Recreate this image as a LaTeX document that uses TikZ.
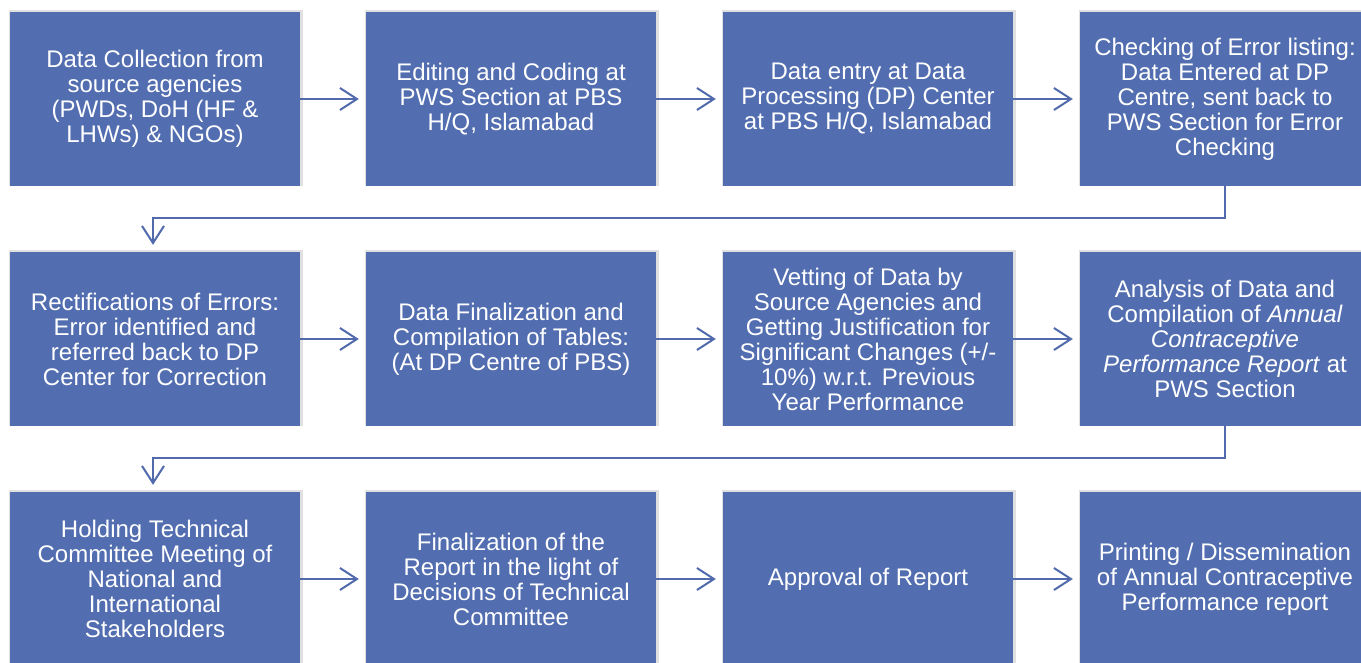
\documentclass[tikz,border=0pt]{standalone}
\usepackage{fontspec}
\setmainfont{Liberation Sans}
\usetikzlibrary{arrows.meta,shadows}
\definecolor{boxblue}{RGB}{82,110,176}
\definecolor{arrblue}{RGB}{80,106,172}
\begin{document}
\begin{tikzpicture}[x=1pt,y=-1pt,
  box/.style={fill=boxblue, draw=none, minimum width=290pt, minimum height=174pt,
    inner sep=0pt, text=white, align=center, font=\fontsize{24}{25}\selectfont,
    general shadow={fill=black, opacity=0.12, shadow scale=1.012, shadow xshift=1pt, shadow yshift=1pt}},
  conn/.style={draw=arrblue, line width=2pt, -{Straight Barb[length=17pt,width=22pt]}, shorten >=7pt}]
\clip (0,0) rectangle (1361,662);
\fill[white] (0,0) rectangle (1361,662);
% row 1
\node[box] (b1) at (155,99) {Data Collection from\\source agencies\\(PWDs, DoH (HF \&\\LHWs) \& NGOs)};
\node[box] (b2) at (511,99) {Editing and Coding at\\PWS Section at PBS\\H/Q, Islamabad};
\node[box] (b3) at (868,99) {Data entry at Data\\Processing (DP) Center\\at PBS H/Q, Islamabad};
\node[box] (b4) at (1225,99) {Checking of Error listing:\\Data Entered at DP\\Centre, sent back to\\PWS Section for Error\\Checking};
% row 2
\node[box] (b5) at (155,339) {Rectifications of Errors:\\Error identified and\\referred back to DP\\Center for Correction};
\node[box] (b6) at (511,339) {Data Finalization and\\Compilation of Tables:\\(At DP Centre of PBS)};
\node[box] (b7) at (868,339) {Vetting of Data by\\Source Agencies and\\Getting Justification for\\Significant Changes (+/-\\10\%) w.r.t. Previous\\Year Performance};
\node[box] (b8) at (1225,339) {Analysis of Data and\\Compilation of \textit{Annual}\\\textit{Contraceptive}\\\textit{Performance Report} at\\PWS Section};
% row 3
\node[box] (b9) at (155,579) {Holding Technical\\Committee Meeting of\\National and\\International\\Stakeholders};
\node[box] (b10) at (511,579) {Finalization of the\\Report in the light of\\Decisions of Technical\\Committee};
\node[box] (b11) at (868,579) {Approval of Report};
\node[box] (b12) at (1225,579) {Printing / Dissemination\\of Annual Contraceptive\\Performance report};
% connectors
\draw[conn] (b1) -- (b2);
\draw[conn] (b2) -- (b3);
\draw[conn] (b3) -- (b4);
\draw[conn] (b5) -- (b6);
\draw[conn] (b6) -- (b7);
\draw[conn] (b7) -- (b8);
\draw[conn] (b9) -- (b10);
\draw[conn] (b10) -- (b11);
\draw[conn] (b11) -- (b12);
\coordinate (t1) at (1225,218);
\coordinate (t2) at (153,218);
\coordinate (t3) at (1225,458);
\coordinate (t4) at (153,458);
\draw[conn] (b4.south) -- (t1) -- (t2) -- (t2 |- b5.north);
\draw[conn] (b8.south) -- (t3) -- (t4) -- (t4 |- b9.north);
\end{tikzpicture}
\end{document}
